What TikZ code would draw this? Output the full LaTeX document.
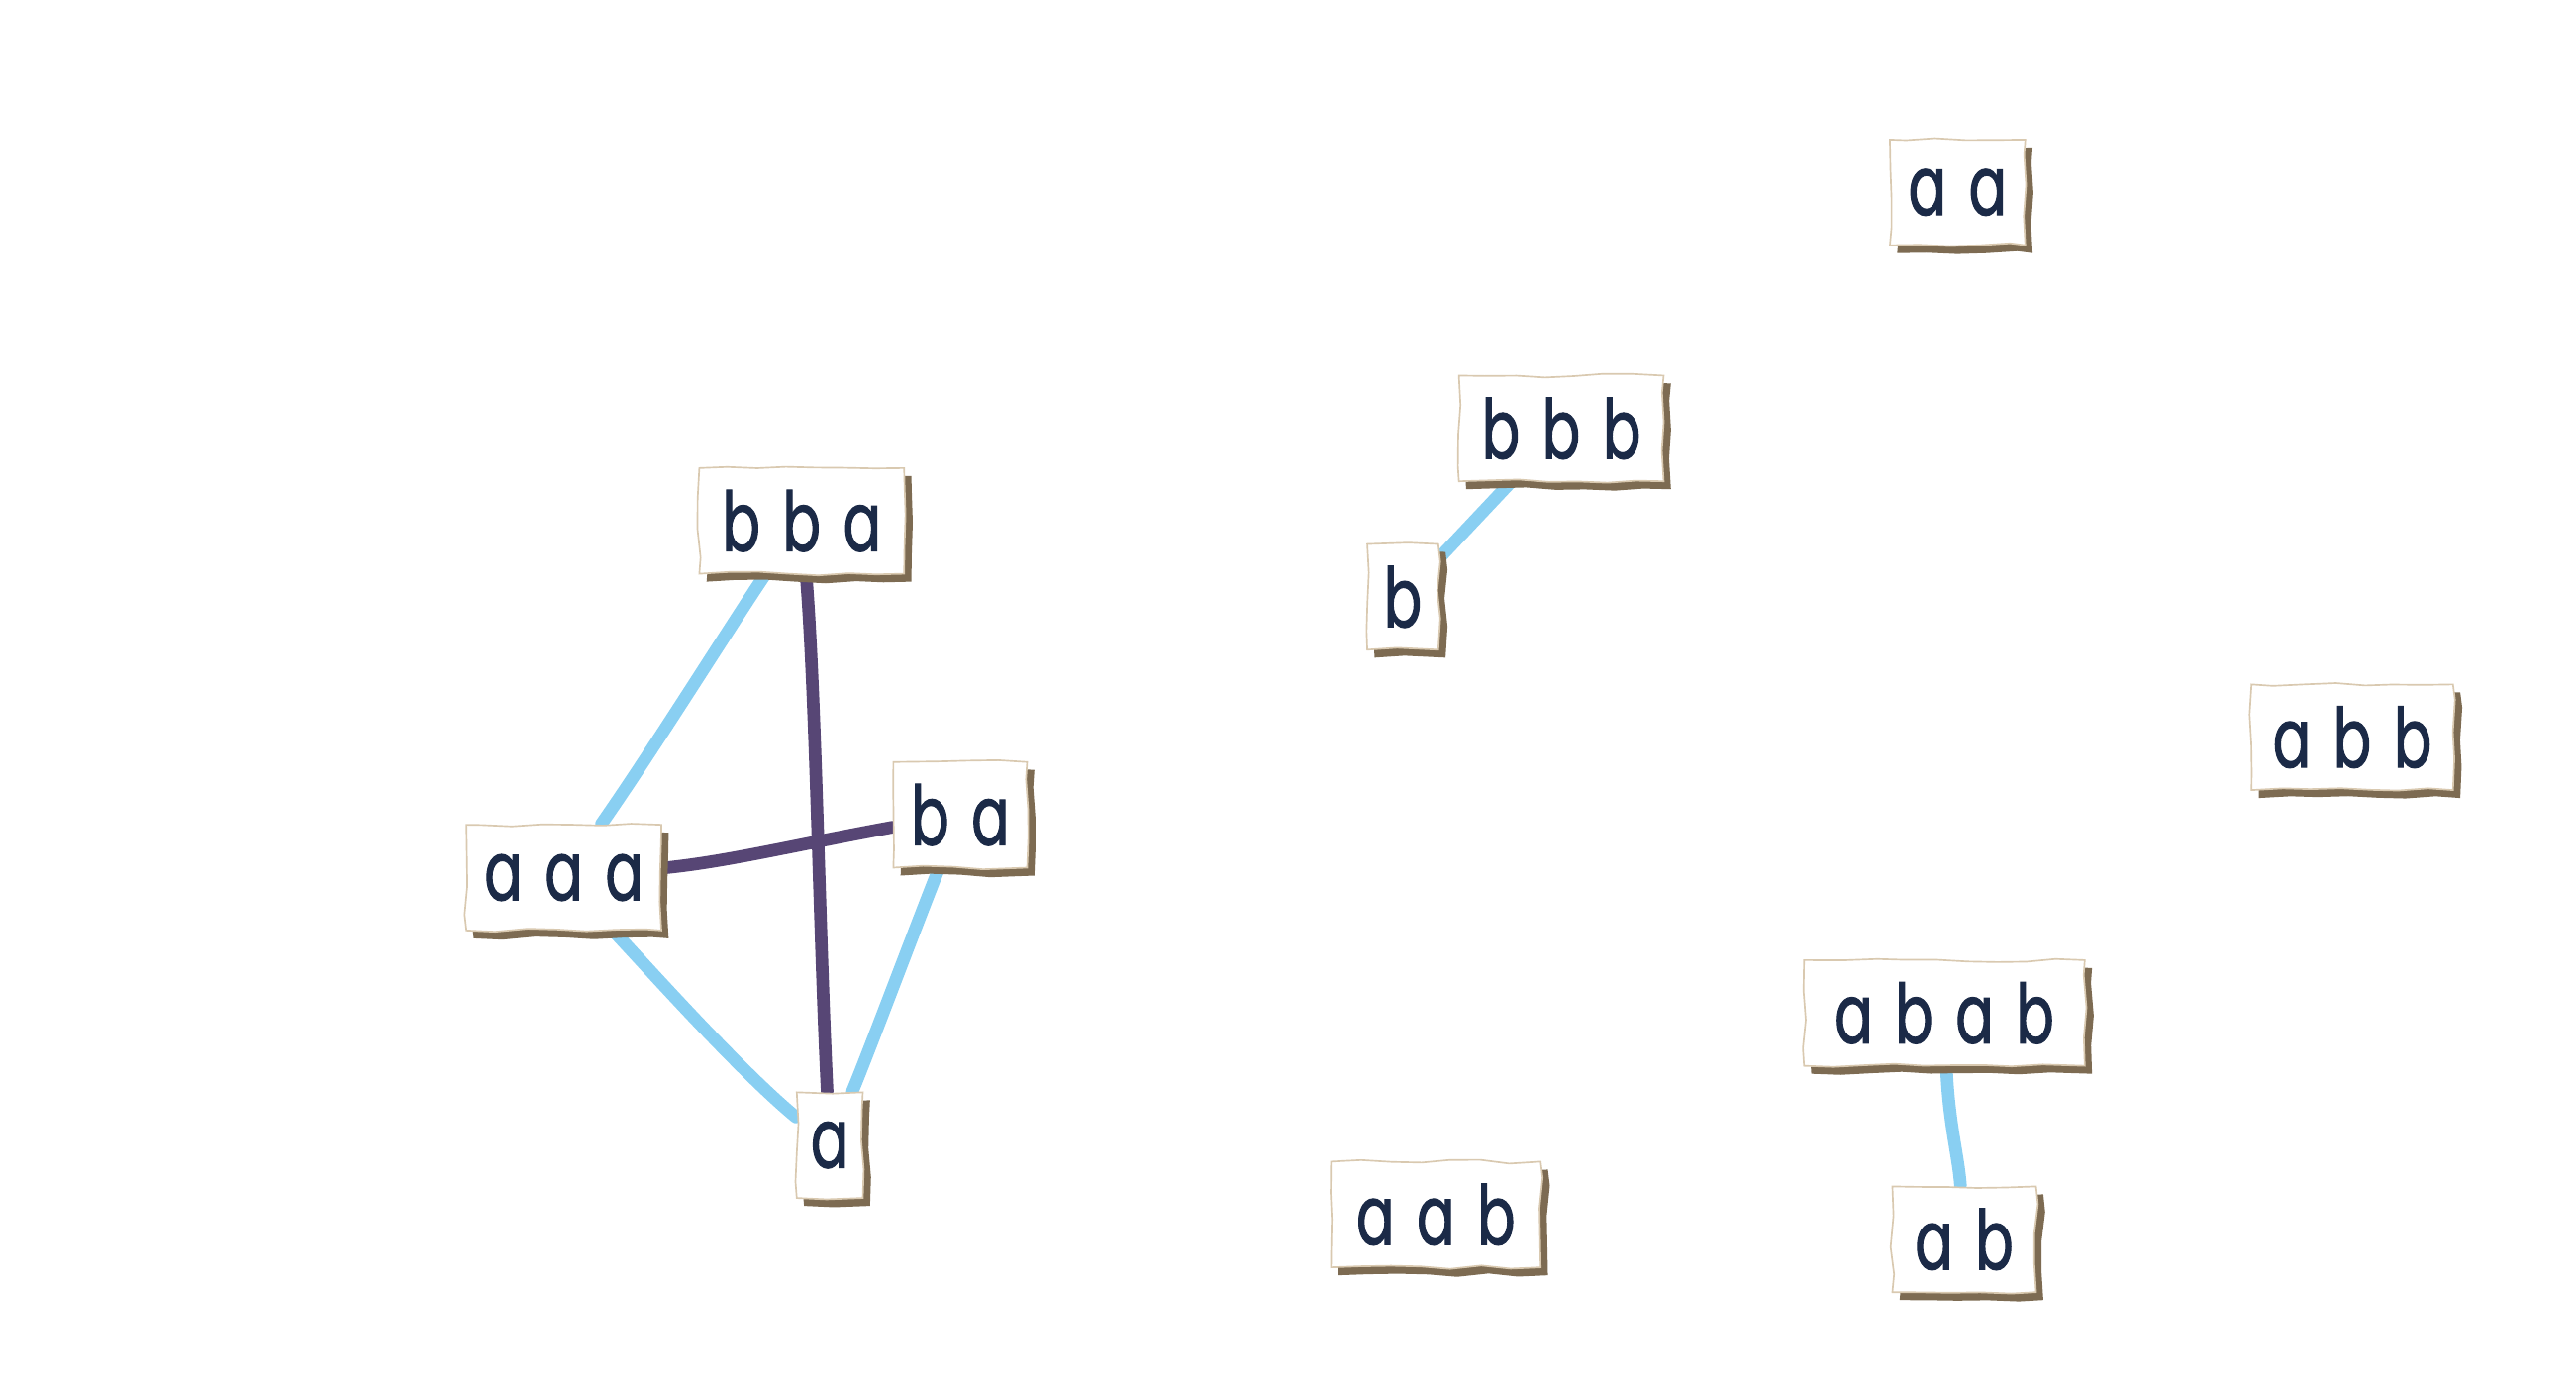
\documentclass[tikz,border=0pt]{standalone}
\usepackage{fontspec}
\newfontfamily\hand[FakeStretch=0.68,FakeBold=1.2,WordSpace=1.5]{Poppins}
\usetikzlibrary{shadows,decorations.pathmorphing,backgrounds}
\definecolor{ink}{HTML}{1B2A47}
\definecolor{sky}{HTML}{89CFF2}
\definecolor{plum}{HTML}{574675}
\definecolor{shade}{HTML}{7D6B52}
\definecolor{rim}{HTML}{D9C9B0}
\begin{document}
\pgfmathsetseed{7}
\begin{tikzpicture}[x=0.5pt,y=-0.5pt,
  paper/.style={draw=rim, line width=0.5pt, fill=white, text=ink,
    font=\hand\fontsize{25}{28}\selectfont, minimum height=32pt, inner sep=0pt,
    decorate, decoration={random steps, segment length=9pt, amplitude=0.6pt},
    drop shadow={shadow xshift=2.2pt, shadow yshift=-2.4pt, fill=shade, opacity=1}},
  lite/.style={draw=sky, line width=3.8pt, line cap=round},
  dark/.style={draw=plum, line width=3.8pt, line cap=round}]
\useasboundingbox (0,0) rectangle (1560,833.4);
\node[paper, minimum width=41pt]   (aa)   at (1185.5,116.5) {a a};
\node[paper, minimum width=62pt]   (bbb)  at (945.5,259.5) {b b b};
\node[paper, minimum width=21.5pt] (b)    at (849.5,361.5) {b};
\node[paper, minimum width=62pt]   (bba)  at (485.5,315.5) {b b a};
\node[paper, minimum width=40.5pt] (ba)   at (581.5,493.5) {b a};
\node[paper, minimum width=59pt]   (aaa)  at (341.5,531.5) {a a a};
\node[paper, minimum width=20pt]   (a)    at (502.5,693.5) {a};
\node[paper, minimum width=61pt]   (abb)  at (1424.5,446.5) {a b b};
\node[paper, minimum width=85pt]   (abab) at (1177.5,613.5) {a b a b};
\node[paper, minimum width=63.5pt] (aab)  at (869.5,735.5) {a a b};
\node[paper, minimum width=43.5pt] (ab)   at (1189.5,750.5) {a b};
\begin{scope}[on background layer]
\draw[lite] (bba) .. controls (445,375) and (395,455) .. (aaa);
\draw[lite] (aaa) .. controls (405,600) and (450,650) .. (a);
\draw[lite] (ba) .. controls (555,560) and (525,640) .. (a);
\draw[dark] (bba) .. controls (494,420) and (496,560) .. (a);
\draw[dark] (aaa) .. controls (440,522) and (480,512) .. (ba);
\draw[lite] (bbb) -- (b);
\draw[lite] (abab) .. controls (1180,680) and (1186,700) .. (ab);
\end{scope}
\end{tikzpicture}
\end{document}
